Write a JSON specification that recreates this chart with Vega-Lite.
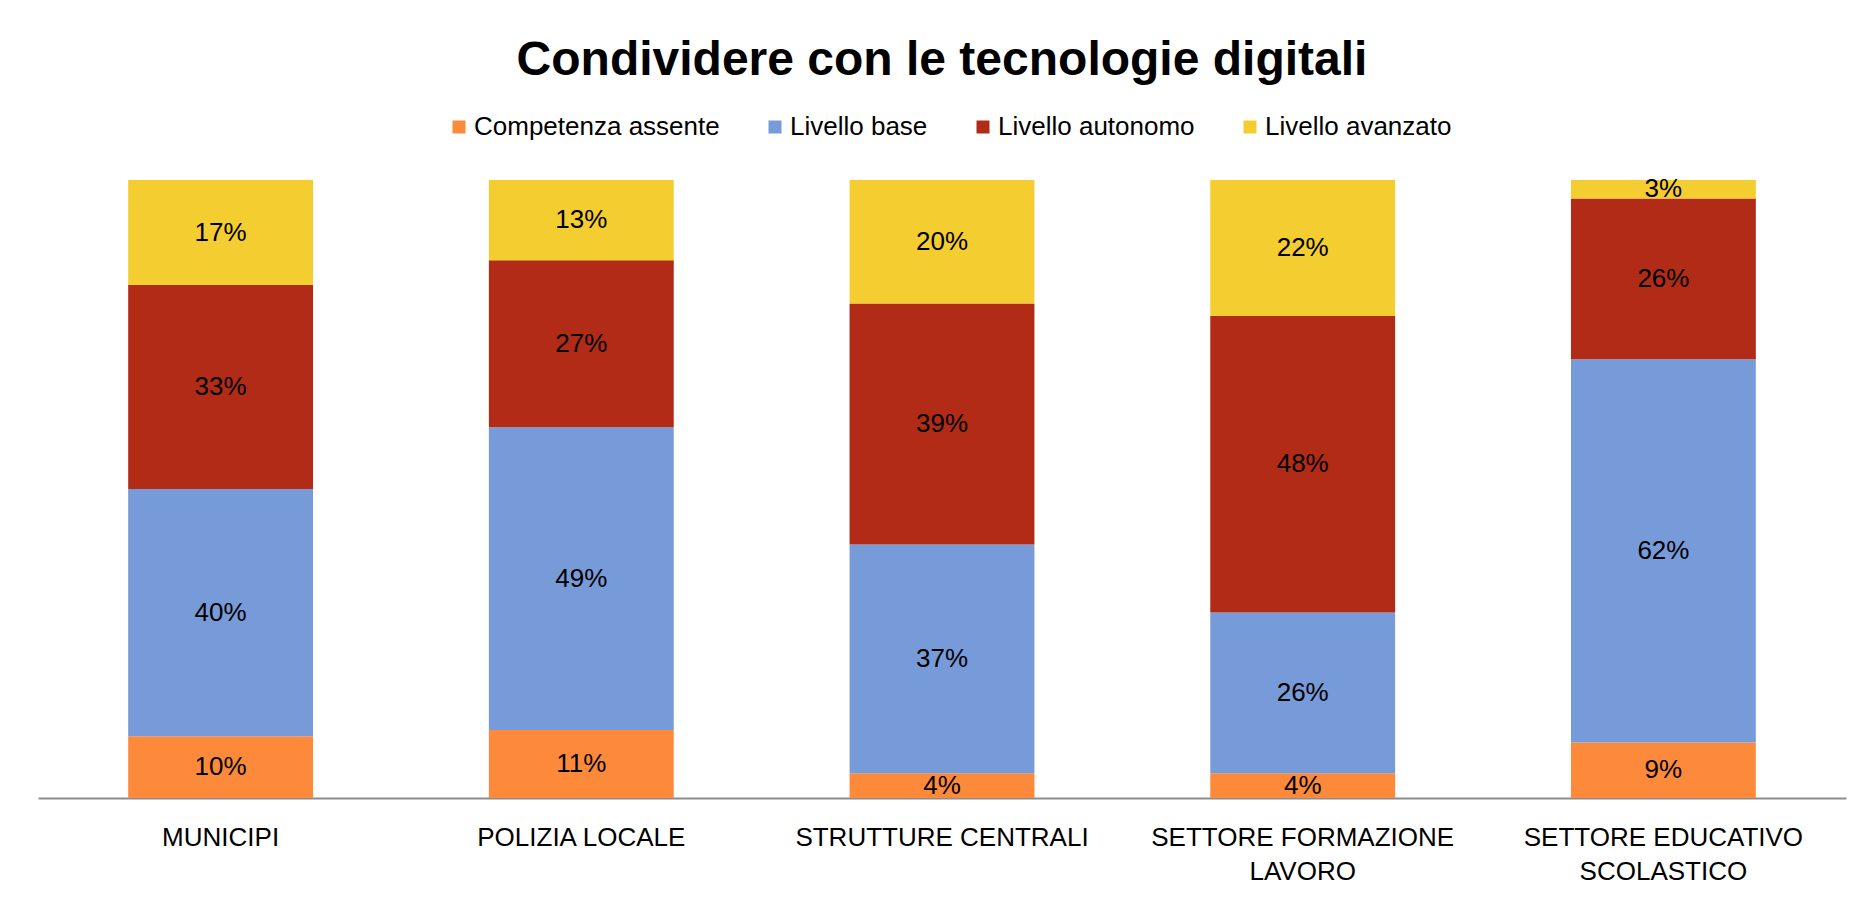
{
  "$schema": "https://vega.github.io/schema/vega-lite/v6.json",
  "width": 1808,
  "height": 618,
  "autosize": {"type": "none"},
  "padding": {"left": 38, "top": 180, "right": 10, "bottom": 107},
  "background": "white",
  "title": {
    "text": "Condividere con le tecnologie digitali",
    "font": "Liberation Sans",
    "fontSize": 48,
    "fontWeight": "bold",
    "color": "#000000",
    "anchor": "middle",
    "offset": 29
  },
  "data": {
    "values": [
      {"categoria": "MUNICIPI", "livello": "Competenza assente", "o": 1, "valore": 0.10},
      {"categoria": "MUNICIPI", "livello": "Livello base", "o": 2, "valore": 0.40},
      {"categoria": "MUNICIPI", "livello": "Livello autonomo", "o": 3, "valore": 0.33},
      {"categoria": "MUNICIPI", "livello": "Livello avanzato", "o": 4, "valore": 0.17},
      {"categoria": "POLIZIA LOCALE", "livello": "Competenza assente", "o": 1, "valore": 0.11},
      {"categoria": "POLIZIA LOCALE", "livello": "Livello base", "o": 2, "valore": 0.49},
      {"categoria": "POLIZIA LOCALE", "livello": "Livello autonomo", "o": 3, "valore": 0.27},
      {"categoria": "POLIZIA LOCALE", "livello": "Livello avanzato", "o": 4, "valore": 0.13},
      {"categoria": "STRUTTURE CENTRALI", "livello": "Competenza assente", "o": 1, "valore": 0.04},
      {"categoria": "STRUTTURE CENTRALI", "livello": "Livello base", "o": 2, "valore": 0.37},
      {"categoria": "STRUTTURE CENTRALI", "livello": "Livello autonomo", "o": 3, "valore": 0.39},
      {"categoria": "STRUTTURE CENTRALI", "livello": "Livello avanzato", "o": 4, "valore": 0.20},
      {"categoria": "SETTORE FORMAZIONE LAVORO", "livello": "Competenza assente", "o": 1, "valore": 0.04},
      {"categoria": "SETTORE FORMAZIONE LAVORO", "livello": "Livello base", "o": 2, "valore": 0.26},
      {"categoria": "SETTORE FORMAZIONE LAVORO", "livello": "Livello autonomo", "o": 3, "valore": 0.48},
      {"categoria": "SETTORE FORMAZIONE LAVORO", "livello": "Livello avanzato", "o": 4, "valore": 0.22},
      {"categoria": "SETTORE EDUCATIVO SCOLASTICO", "livello": "Competenza assente", "o": 1, "valore": 0.09},
      {"categoria": "SETTORE EDUCATIVO SCOLASTICO", "livello": "Livello base", "o": 2, "valore": 0.62},
      {"categoria": "SETTORE EDUCATIVO SCOLASTICO", "livello": "Livello autonomo", "o": 3, "valore": 0.26},
      {"categoria": "SETTORE EDUCATIVO SCOLASTICO", "livello": "Livello avanzato", "o": 4, "valore": 0.03}
    ]
  },
  "encoding": {
    "x": {
      "field": "categoria",
      "type": "nominal",
      "sort": null,
      "scale": {"paddingInner": 0.4875, "paddingOuter": 0.25},
      "axis": {
        "title": null,
        "labelAngle": 0,
        "labelFont": "Liberation Sans",
        "labelFontSize": 26,
        "labelColor": "#000000",
        "labelPadding": 26,
        "labelLineHeight": 34,
        "labelBaseline": "top",
        "labelLimit": 0,
        "ticks": false,
        "domainColor": "#8c8c8c",
        "domainWidth": 2,
        "labelExpr": "datum.value == 'SETTORE FORMAZIONE LAVORO' ? ['SETTORE FORMAZIONE', 'LAVORO'] : datum.value == 'SETTORE EDUCATIVO SCOLASTICO' ? ['SETTORE EDUCATIVO', 'SCOLASTICO'] : datum.value"
      }
    },
    "y": {
      "field": "valore",
      "type": "quantitative",
      "stack": "zero",
      "scale": {"domain": [0, 1], "nice": false},
      "axis": null
    },
    "order": {"field": "o", "type": "quantitative"}
  },
  "layer": [
    {
      "mark": {"type": "bar"},
      "encoding": {
        "color": {
          "field": "livello",
          "type": "nominal",
          "scale": {
            "domain": ["Competenza assente", "Livello base", "Livello autonomo", "Livello avanzato"],
            "range": ["#FD8A3A", "#779AD8", "#B12B17", "#F4CE30"]
          },
          "legend": {
            "title": null,
            "orient": "none",
            "direction": "horizontal",
            "legendX": 408,
            "legendY": -66,
            "symbolType": "square",
            "symbolSize": 169,
            "symbolStrokeWidth": 0,
            "symbolOpacity": 1,
            "labelFont": "Liberation Sans",
            "labelFontSize": 26,
            "labelColor": "#000000",
            "labelOffset": 2,
            "labelLimit": 0,
            "columnPadding": 42
          }
        }
      }
    },
    {
      "mark": {"type": "text", "font": "Liberation Sans", "fontSize": 26, "color": "#000000", "baseline": "middle"},
      "encoding": {
        "y": {
          "field": "valore",
          "type": "quantitative",
          "stack": "zero",
          "bandPosition": 0.5
        },
        "text": {"field": "valore", "type": "quantitative", "format": ".0%"}
      }
    }
  ],
  "config": {
    "view": {"stroke": null}
  }
}
